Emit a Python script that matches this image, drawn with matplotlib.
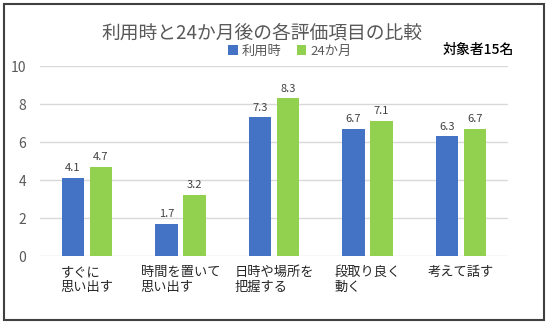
import matplotlib
matplotlib.use('Agg')
import matplotlib.pyplot as plt
import numpy as np
from matplotlib.patches import Rectangle

plt.rcParams['font.family'] = ['Noto Sans CJK JP', 'DejaVu Sans']

# ── data ─────────────────────────────────────────
categories = ['すぐに\n思い出す', '時間を置いて\n思い出す', '日時や場所を\n把握する',
              '段取り良く\n動く', '考えて話す']
before = [4.1, 1.7, 7.3, 6.7, 6.3]
after = [4.7, 3.2, 8.3, 7.1, 6.7]
series_names = ['利用時', '24か月']

blue = '#4472C4'
green = '#92D050'
grey = '#595959'

fig = plt.figure(figsize=(5.48, 3.25), dpi=100)
ax = fig.add_axes([40/548, 1-256/325, 468/548, 190/325])

x = np.arange(len(categories))
w = 0.24
b1 = ax.bar(x - 0.15, before, w, color=blue, label=series_names[0], zorder=3)
b2 = ax.bar(x + 0.15, after, w, color=green, label=series_names[1], zorder=3)

for bars, vals in ((b1, before), (b2, after)):
    for bar, v in zip(bars, vals):
        ax.text(bar.get_x() + bar.get_width()/2, v + 0.25, f'{v:.1f}',
                ha='center', va='bottom', fontsize=8, color='#404040')

ax.set_xlim(-0.5, len(categories) - 0.5)
ax.set_ylim(0, 10)
ax.set_yticks(range(0, 11, 2))
ax.yaxis.grid(True, color='#D9D9D9', linewidth=1, zorder=0)
for s in ax.spines.values():
    s.set_visible(False)
ax.tick_params(axis='both', length=0)
ax.tick_params(axis='y', labelsize=10, labelcolor=grey, pad=10)
ax.set_xticks(x)
ax.set_xticklabels(categories, fontsize=9.5, color='#262626', multialignment='left')
ax.tick_params(axis='x', pad=7)

fig.text(262/548, 1-33/325, '利用時と24か月後の各評価項目の比較',
         ha='center', va='center', fontsize=13.5, color=grey)
fig.legend(loc='center', bbox_to_anchor=(290/548, 1-51/325), ncol=2,
           frameon=False, fontsize=9.5, handlelength=0.7, handleheight=0.7,
           handletextpad=0.3, columnspacing=1.2, labelcolor=grey)
fig.text(478/548, 1-50/325, '対象者15名', ha='center', va='center',
         fontsize=10, color='black', fontweight='medium')

fig.patches.append(Rectangle((4/548, 5/325), 540/548, 316/325,
                             transform=fig.transFigure, fill=False,
                             edgecolor='#404040', linewidth=1.5))

fig.savefig('out.png', dpi=100)
